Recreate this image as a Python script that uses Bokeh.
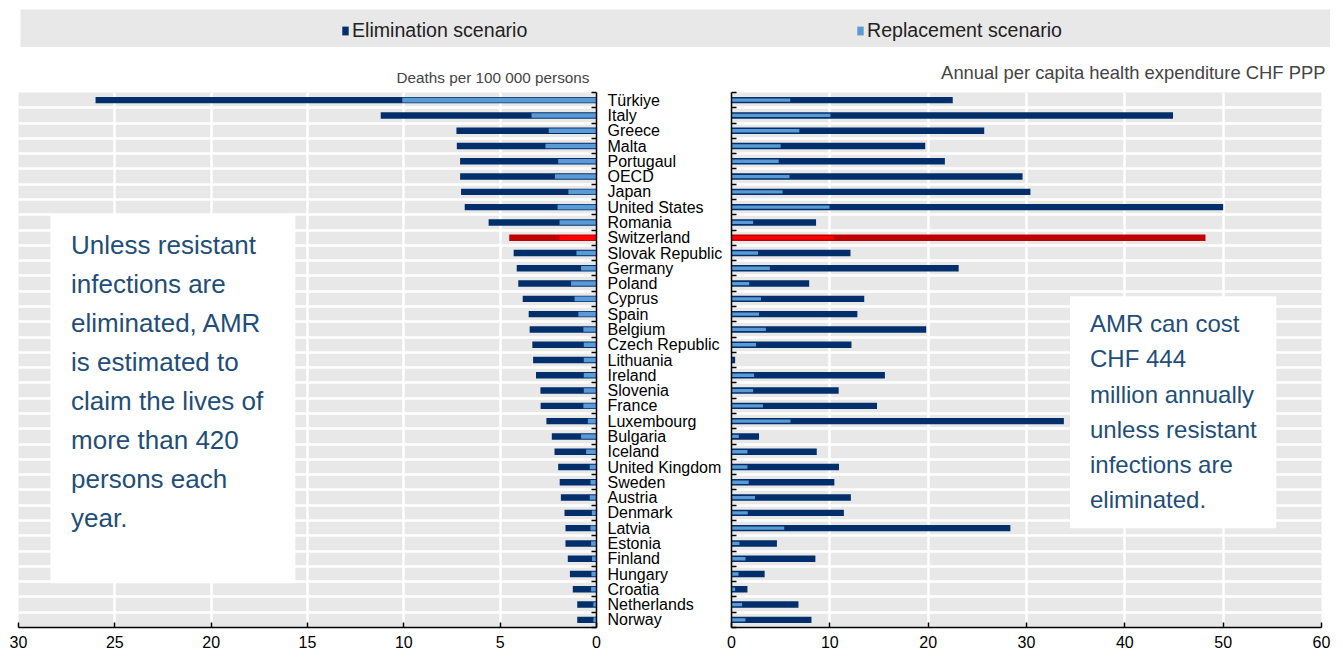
from bokeh.plotting import figure
from bokeh.models import (Range1d, FixedTicker, BoxAnnotation, Label, Legend,
                          LegendItem, ColumnDataSource)
from bokeh.layouts import column, row
from bokeh.embed import file_html
from bokeh.resources import INLINE

countries = ["Türkiye", "Italy", "Greece", "Malta", "Portugaul", "OECD", "Japan",
             "United States", "Romania", "Switzerland", "Slovak Republic", "Germany",
             "Poland", "Cyprus", "Spain", "Belgium", "Czech Republic", "Lithuania",
             "Ireland", "Slovenia", "France", "Luxembourg", "Bulgaria", "Iceland",
             "United Kingdom", "Sweden", "Austria", "Denmark", "Latvia", "Estonia",
             "Finland", "Hungary", "Croatia", "Netherlands", "Norway"]

deaths_elimination = [26.0, 11.2, 7.27, 7.25, 7.08, 7.08, 7.03, 6.84, 5.6, 4.53,
                      4.30, 4.14, 4.06, 3.83, 3.52, 3.47, 3.33, 3.29, 3.14, 2.91,
                      2.90, 2.60, 2.32, 2.18, 1.99, 1.91, 1.85, 1.66, 1.61, 1.61,
                      1.49, 1.38, 1.23, 1.0, 1.0]
deaths_replacement = [10.08, 3.37, 2.48, 2.65, 1.99, 2.16, 1.46, 2.02, 1.92, 1.92,
                      1.04, 0.80, 1.32, 1.14, 0.94, 0.68, 0.66, 0.66, 0.66, 0.66,
                      0.68, 0.45, 0.80, 0.54, 0.35, 0.31, 0.35, 0.24, 0.31, 0.28,
                      0.23, 0.26, 0.28, 0.16, 0.16]
spend_elimination = [22.5, 44.9, 25.7, 19.7, 21.7, 29.6, 30.4, 50.0, 8.6, 48.2,
                     12.1, 23.1, 7.9, 13.5, 12.8, 19.8, 12.2, 0.37, 15.6, 10.9,
                     14.8, 33.8, 2.8, 8.67, 10.93, 10.46, 12.14, 11.43, 28.36, 4.62,
                     8.53, 3.37, 1.62, 6.81, 8.13]
spend_replacement = [5.97, 10.06, 6.9, 5.0, 4.8, 5.9, 5.2, 9.97, 2.2, 10.4,
                     2.7, 3.9, 1.8, 3.0, 2.8, 3.5, 2.5, 0.1, 2.3, 2.2,
                     3.2, 6.0, 0.74, 1.62, 1.62, 1.75, 2.39, 1.65, 5.36, 0.81,
                     1.42, 0.71, 0.37, 1.08, 1.42]
highlight = "Switzerland"

left_ticks = [0, 5, 10, 15, 20, 25, 30]
right_ticks = [0, 10, 20, 30, 40, 50, 60]

left_title = "Deaths per 100 000 persons"
right_title = "Annual per capita health expenditure CHF PPP"
legend_labels = ["Elimination scenario", "Replacement scenario"]
left_note = ("Unless resistant\ninfections are\neliminated, AMR\nis estimated to\n"
             "claim the lives of\nmore than 420\npersons each\nyear.")
right_note = ("AMR can cost\nCHF 444\nmillion annually\nunless resistant\n"
              "infections are\neliminated.")

DARK = "#002F6C"
LIGHT = "#5B9BD5"
RED_D = "#C00000"
RED_L = "#FF0000"
BG = "#E8E8E8"
TXT = "#1F4E79"
FONT = "Liberation Sans"

n = len(countries)
ypos = list(range(n))
bounds = [i - 0.5 for i in range(n + 1)]
src = ColumnDataSource(dict(
    y=ypos, country=countries,
    de=deaths_elimination, dr=deaths_replacement,
    se=spend_elimination, sr=spend_replacement,
    dc=[RED_D if c == highlight else DARK for c in countries],
    lc=[RED_L if c == highlight else LIGHT for c in countries],
))


def style_common(p, xticks, grid_ticks):
    p.xaxis.ticker = FixedTicker(ticks=xticks)
    p.xaxis.major_tick_in = 5
    p.xaxis.major_tick_out = 0
    p.xaxis.minor_tick_line_color = None
    p.xaxis.axis_line_width = 1.5
    p.xaxis.major_tick_line_width = 1.5
    p.xaxis.major_label_text_font = FONT
    p.xaxis.major_label_text_font_size = "16px"
    p.xaxis.major_label_text_color = "#000000"
    p.xaxis.major_label_standoff = 8
    p.xgrid.ticker = FixedTicker(ticks=grid_ticks)
    p.ygrid.ticker = FixedTicker(ticks=bounds[1:-1])
    p.grid.grid_line_color = "white"
    p.grid.grid_line_width = 2.5
    p.yaxis.major_tick_line_color = None
    p.yaxis.major_tick_out = 0
    p.yaxis.major_tick_in = 0
    p.yaxis.minor_tick_in = 5
    p.yaxis.minor_tick_out = 0
    p.yaxis.minor_tick_line_width = 1.5
    p.yaxis.axis_line_width = 1.5
    p.title.text_font = FONT
    p.title.text_font_style = "normal"
    p.title.align = "right"


# ---------- left panel ----------
left = figure(frame_width=578, frame_height=535,
              x_range=Range1d(30, 0), y_range=Range1d(n - 0.5, -0.5),
              output_backend="svg", toolbar_location=None,
              y_axis_location="right", title=left_title,
              min_border_left=18, min_border_right=130,
              min_border_top=45, min_border_bottom=26,
              background_fill_color=BG, border_fill_color="white",
              outline_line_color=None)
left.hbar(y="y", left=0, right="de", height=0.42, fill_color="dc",
          line_color=None, source=src)
left.hbar(y="y", left=0, right="dr", height=0.3, fill_color="lc",
          line_color=None, source=src)
style_common(left, left_ticks, [5, 10, 15, 20, 25])
left.yaxis.ticker = FixedTicker(ticks=ypos, minor_ticks=bounds)
left.yaxis.major_label_overrides = {i: c for i, c in enumerate(countries)}
left.yaxis.major_label_text_font = FONT
left.yaxis.major_label_text_font_size = "16px"
left.yaxis.major_label_text_color = "#000000"
left.yaxis.major_label_standoff = 11
left.title.text_font_size = "15.3px"
left.title.offset = 7
left.title.standoff = 13

left.add_layout(BoxAnnotation(left=28.34, right=15.63, top=7.46, bottom=31.6,
                              fill_color="white", fill_alpha=1.0,
                              line_color=None, level="underlay"))
left.add_layout(Label(x=27.27, y=8.5, text=left_note, text_font=FONT,
                      text_font_size="26px", text_color=TXT,
                      text_baseline="top", text_align="left",
                      text_line_height=1.3))

# ---------- right panel ----------
right = figure(frame_width=590, frame_height=535,
               x_range=Range1d(0, 60), y_range=Range1d(n - 0.5, -0.5),
               output_backend="svg", toolbar_location=None, title=right_title,
               min_border_left=5, min_border_right=10,
               min_border_top=45, min_border_bottom=26,
               background_fill_color=BG, border_fill_color="white",
               outline_line_color=None)
right.hbar(y="y", left=0, right="se", height=0.42, fill_color="dc",
           line_color=None, source=src)
right.hbar(y="y", left=0, right="sr", height=0.22, fill_color="lc",
           line_color=None, source=src)
style_common(right, right_ticks, [10, 20, 30, 40, 50])
right.yaxis.ticker = FixedTicker(ticks=[], minor_ticks=bounds)
right.yaxis.major_label_standoff = 0
right.title.text_font_size = "18.4px"
right.title.offset = -4
right.title.standoff = 20

right.add_layout(BoxAnnotation(left=34.42, right=55.4, top=12.83, bottom=28.0,
                               fill_color="white", fill_alpha=1.0,
                               line_color=None, level="underlay"))
right.add_layout(Label(x=36.46, y=13.75, text=right_note, text_font=FONT,
                       text_font_size="24px", text_color=TXT,
                       text_baseline="top", text_align="left",
                       text_line_height=1.3))

# ---------- legend strip ----------
leg = figure(frame_width=1310, frame_height=38,
             x_range=Range1d(0, 1), y_range=Range1d(0, 1),
             output_backend="svg", toolbar_location=None,
             x_axis_location=None, y_axis_location=None,
             min_border_left=20, min_border_right=0,
             min_border_top=9, min_border_bottom=0,
             background_fill_color=BG, border_fill_color="white",
             outline_line_color=None)
leg.grid.visible = False
r1 = leg.quad(left=[5], right=[6], top=[6], bottom=[5], fill_color=DARK, line_color=None)
r2 = leg.quad(left=[5], right=[6], top=[6], bottom=[5], fill_color=LIGHT, line_color=None)
for rend, lab, xloc in [(r1, legend_labels[0], 321),
                        (r2, legend_labels[1], 836)]:
    lg = Legend(items=[LegendItem(label=lab, renderers=[rend])],
                location=(xloc, 5), orientation="horizontal",
                glyph_width=8, glyph_height=11, label_standoff=3,
                label_text_font=FONT, label_text_font_size="19.6px",
                label_text_color="#222222", padding=0, margin=0,
                background_fill_alpha=0, border_line_color=None)
    leg.add_layout(lg)

layout = column(leg, row(left, right))

with open("out.html", "w") as f:
    f.write(file_html(layout, INLINE))
